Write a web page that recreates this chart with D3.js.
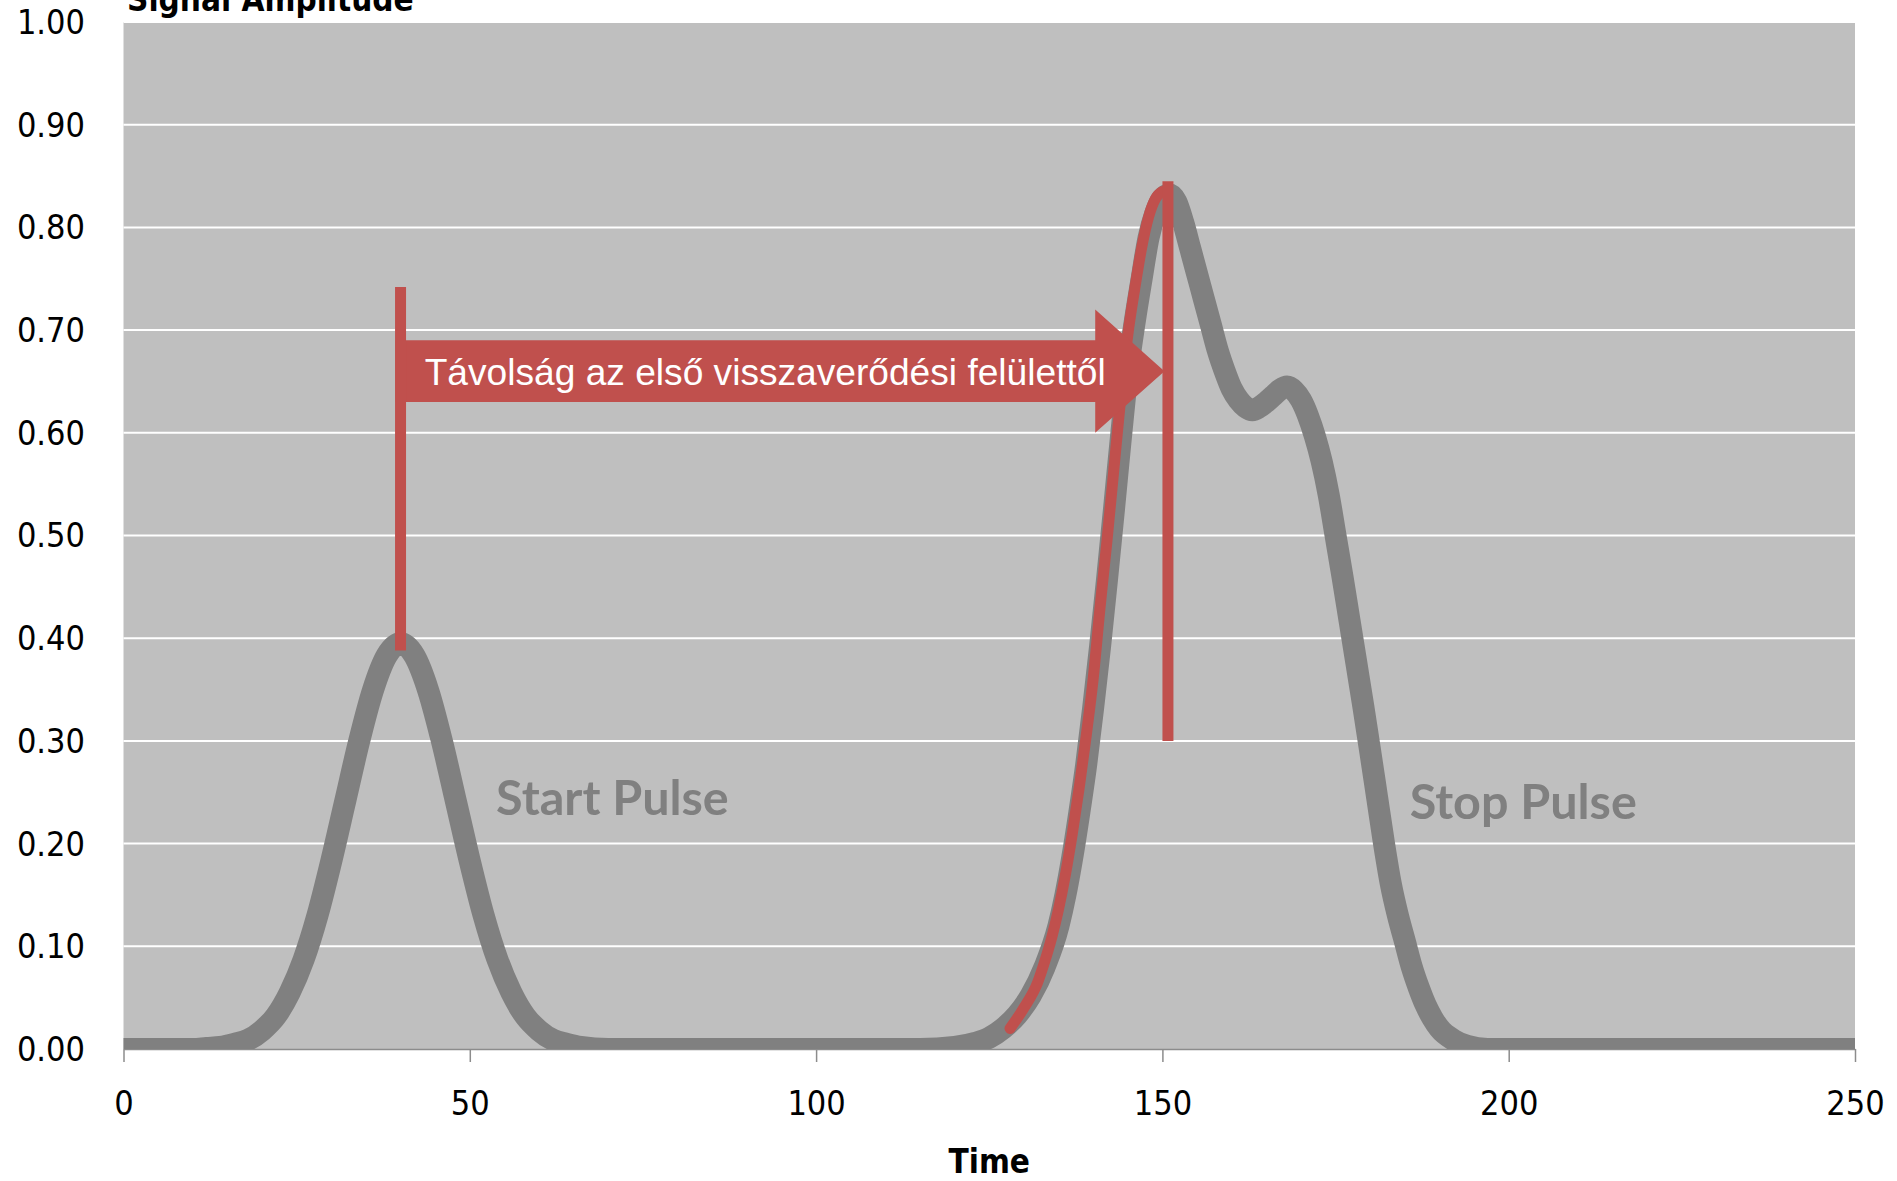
<!DOCTYPE html>
<html>
<head>
<meta charset="utf-8">
<script src="https://cdn.jsdelivr.net/npm/d3@7"></script>
<style>
  body { margin: 0; background: #fff; }
  svg { display: block; }
  .tick-label { font-family: "DejaVu Sans", sans-serif; font-stretch: condensed; font-size: 34px; fill: #000; }
  .axis-title { font-family: "DejaVu Sans", sans-serif; font-stretch: condensed; font-weight: bold; font-size: 33px; fill: #000; }
  .pulse-label { font-family: Lato, "Open Sans", sans-serif; font-weight: bold; font-size: 48.5px; fill: #808080; }
</style>
</head>
<body>
<svg id="chart" width="1897" height="1181"></svg>
<script>
// gray signal
const times = [0, 10, 12, 14, 16, 18, 20, 22, 24, 26, 28, 30, 32, 34, 36, 38, 40, 42, 44, 46, 48, 50, 52, 54, 56, 58, 60, 62, 64, 66, 70,
    115, 120, 123, 125, 127, 129, 131, 133, 135, 136, 137, 138, 139, 140, 141, 142, 143, 144, 145, 146, 147, 148, 149, 150,
    151, 152, 153, 154, 155, 156, 157, 158, 159, 160, 161, 162, 163, 164, 165, 166, 167, 168, 169, 170,
    171, 172, 173, 174, 175, 176, 177, 178, 179, 180, 181, 182, 183, 184, 185, 186, 187, 188, 189, 190, 192, 194, 197, 250];
const amplitude = [0, 0, 0.001, 0.002, 0.005, 0.009, 0.018, 0.032, 0.055, 0.087, 0.13, 0.183, 0.241, 0.299, 0.349, 0.383, 0.395,
    0.383, 0.349, 0.299, 0.241, 0.183, 0.13, 0.087, 0.055, 0.032, 0.018, 0.009, 0.005, 0.002, 0,
    0, 0.002, 0.006, 0.011, 0.02, 0.033, 0.052, 0.08, 0.12, 0.15, 0.187, 0.23, 0.277, 0.332, 0.392, 0.457, 0.525, 0.595, 0.66,
    0.708, 0.75, 0.79, 0.814, 0.828,
    0.832, 0.825, 0.805, 0.78, 0.755, 0.73, 0.705, 0.68, 0.66, 0.643, 0.632, 0.625, 0.622, 0.625, 0.63, 0.636, 0.642, 0.645,
    0.641, 0.632,
    0.617, 0.597, 0.572, 0.54, 0.5, 0.46, 0.418, 0.376, 0.334, 0.29, 0.245, 0.2, 0.16, 0.13, 0.105, 0.08, 0.06, 0.043,
    0.03, 0.02, 0.009, 0.003, 0, 0];

// red overlay on the rising edge of the stop pulse
const redTimes = [128, 130, 132, 133, 134, 135, 136, 137, 138, 139, 140, 141, 142, 143, 144, 145, 146, 147, 148, 149, 150];
const redAmp = [0.02, 0.04, 0.065, 0.085, 0.108, 0.136, 0.17, 0.21, 0.255, 0.305, 0.36, 0.43, 0.495, 0.565, 0.635, 0.695,
    0.74, 0.78, 0.81, 0.828, 0.835];

const xTicks = [0, 50, 100, 150, 200, 250];
const yTicks = [0, 0.1, 0.2, 0.3, 0.4, 0.5, 0.6, 0.7, 0.8, 0.9, 1.0];

// marker bars (time, from, to)
const markerTimes = [40, 150.8];
const markerFrom = [0.388, 0.30];
const markerTo = [0.742, 0.845];

// arrow between the markers
const arrowStart = 39.3, arrowNeck = 140.3, arrowTip = 150.3;
const arrowBody = [0.63, 0.69];
const arrowHead = [0.60, 0.72];
const arrowText = "Távolság az első visszaverődési felülettől";

const labels = ["Start Pulse", "Stop Pulse"];
const labelTimes = [53.8, 185.7];
const labelAmp = [0.245, 0.241];

const red = "#c0504d";
const gray = "#808080";

const margin = {left: 123.5, right: 42, top: 22, bottom: 132};
const width = 1897, height = 1181;

const svg = d3.select("#chart");

const x = d3.scaleLinear().domain([0, 250]).range([margin.left, width - margin.right]);
const y = d3.scaleLinear().domain([0, 1]).range([height - margin.bottom, margin.top]);

// plot background
svg.append("rect")
    .attr("x", x(0)).attr("y", y(1))
    .attr("width", x(250) - x(0)).attr("height", y(0) - y(1))
    .attr("fill", "#bfbfbf");

svg.append("clipPath").attr("id", "plot-clip")
    .append("rect")
    .attr("x", x(0)).attr("y", y(1))
    .attr("width", x(250) - x(0)).attr("height", y(0) - y(1));

// gridlines
svg.append("g")
    .selectAll("line")
    .data(yTicks.slice(1))
    .enter()
    .append("line")
    .attr("x1", x(0)).attr("x2", x(250))
    .attr("y1", d => y(d)).attr("y2", d => y(d))
    .attr("stroke", "#fff")
    .attr("stroke-width", 2);

// x axis
const xAxis = svg.append("g")
    .attr("transform", `translate(0,${y(0)})`)
    .call(d3.axisBottom(x).tickValues(xTicks).tickSize(13).tickSizeOuter(0).tickFormat(d3.format("d")));
xAxis.select(".domain").attr("stroke", "#8c8c8c").attr("stroke-width", 1.5);
xAxis.selectAll(".tick line").attr("stroke", "#8c8c8c").attr("stroke-width", 1.5);
xAxis.selectAll(".tick text")
    .attr("class", "tick-label")
    .attr("y", 54)
    .attr("dy", "0.35em");

// y labels only
svg.append("g")
    .selectAll("text")
    .data(yTicks)
    .enter()
    .append("text")
    .attr("class", "tick-label")
    .attr("x", 85)
    .attr("y", d => y(d))
    .attr("dy", "0.35em")
    .attr("text-anchor", "end")
    .text(d => d.toFixed(2));

// signal
const line = d3.line()
    .x(d => x(d[0]))
    .y(d => y(d[1]))
    .curve(d3.curveMonotoneX);

svg.append("path")
    .datum(times.map((t, i) => [t, amplitude[i]]))
    .attr("d", line)
    .attr("clip-path", "url(#plot-clip)")
    .attr("fill", "none")
    .attr("stroke", gray)
    .attr("stroke-width", 22)
    .attr("stroke-linejoin", "round")
    .attr("stroke-linecap", "round");

svg.append("path")
    .datum(redTimes.map((t, i) => [t, redAmp[i]]))
    .attr("d", line)
    .attr("fill", "none")
    .attr("stroke", red)
    .attr("stroke-width", 11)
    .attr("stroke-linejoin", "round")
    .attr("stroke-linecap", "round");

// arrow
const arrowPts = [
    [arrowStart, arrowBody[1]], [arrowNeck, arrowBody[1]], [arrowNeck, arrowHead[1]],
    [arrowTip, (arrowHead[0] + arrowHead[1]) / 2],
    [arrowNeck, arrowHead[0]], [arrowNeck, arrowBody[0]], [arrowStart, arrowBody[0]]
];
svg.append("path")
    .attr("d", "M" + arrowPts.map(p => `${x(p[0])},${y(p[1])}`).join("L") + "Z")
    .attr("fill", red);

svg.append("text")
    .attr("x", x(arrowStart) + 29)
    .attr("y", y((arrowBody[0] + arrowBody[1]) / 2))
    .attr("dy", "0.36em")
    .attr("textLength", 681)
    .attr("lengthAdjust", "spacingAndGlyphs")
    .style("font-family", "'Liberation Sans', Arial, sans-serif")
    .style("font-size", "37px")
    .style("fill", "#fff")
    .text(arrowText);

// marker bars
svg.append("g")
    .selectAll("line")
    .data(markerTimes)
    .enter()
    .append("line")
    .attr("x1", d => x(d)).attr("x2", d => x(d))
    .attr("y1", (d, i) => y(markerFrom[i])).attr("y2", (d, i) => y(markerTo[i]))
    .attr("stroke", red)
    .attr("stroke-width", 11);

// pulse labels
svg.append("g")
    .selectAll("text")
    .data(labels)
    .enter()
    .append("text")
    .attr("class", "pulse-label")
    .attr("x", (d, i) => x(labelTimes[i]))
    .attr("y", (d, i) => y(labelAmp[i]))
    .attr("dy", "0.36em")
    .text(d => d);

// axis titles
svg.append("text")
    .attr("class", "axis-title")
    .attr("x", (x(0) + x(250)) / 2)
    .attr("y", 1161)
    .attr("dy", "0.35em")
    .attr("text-anchor", "middle")
    .text("Time");

svg.append("text")
    .attr("class", "axis-title")
    .attr("x", 127)
    .attr("y", 11)
    .text("Signal Amplitude");
</script>
</body>
</html>
